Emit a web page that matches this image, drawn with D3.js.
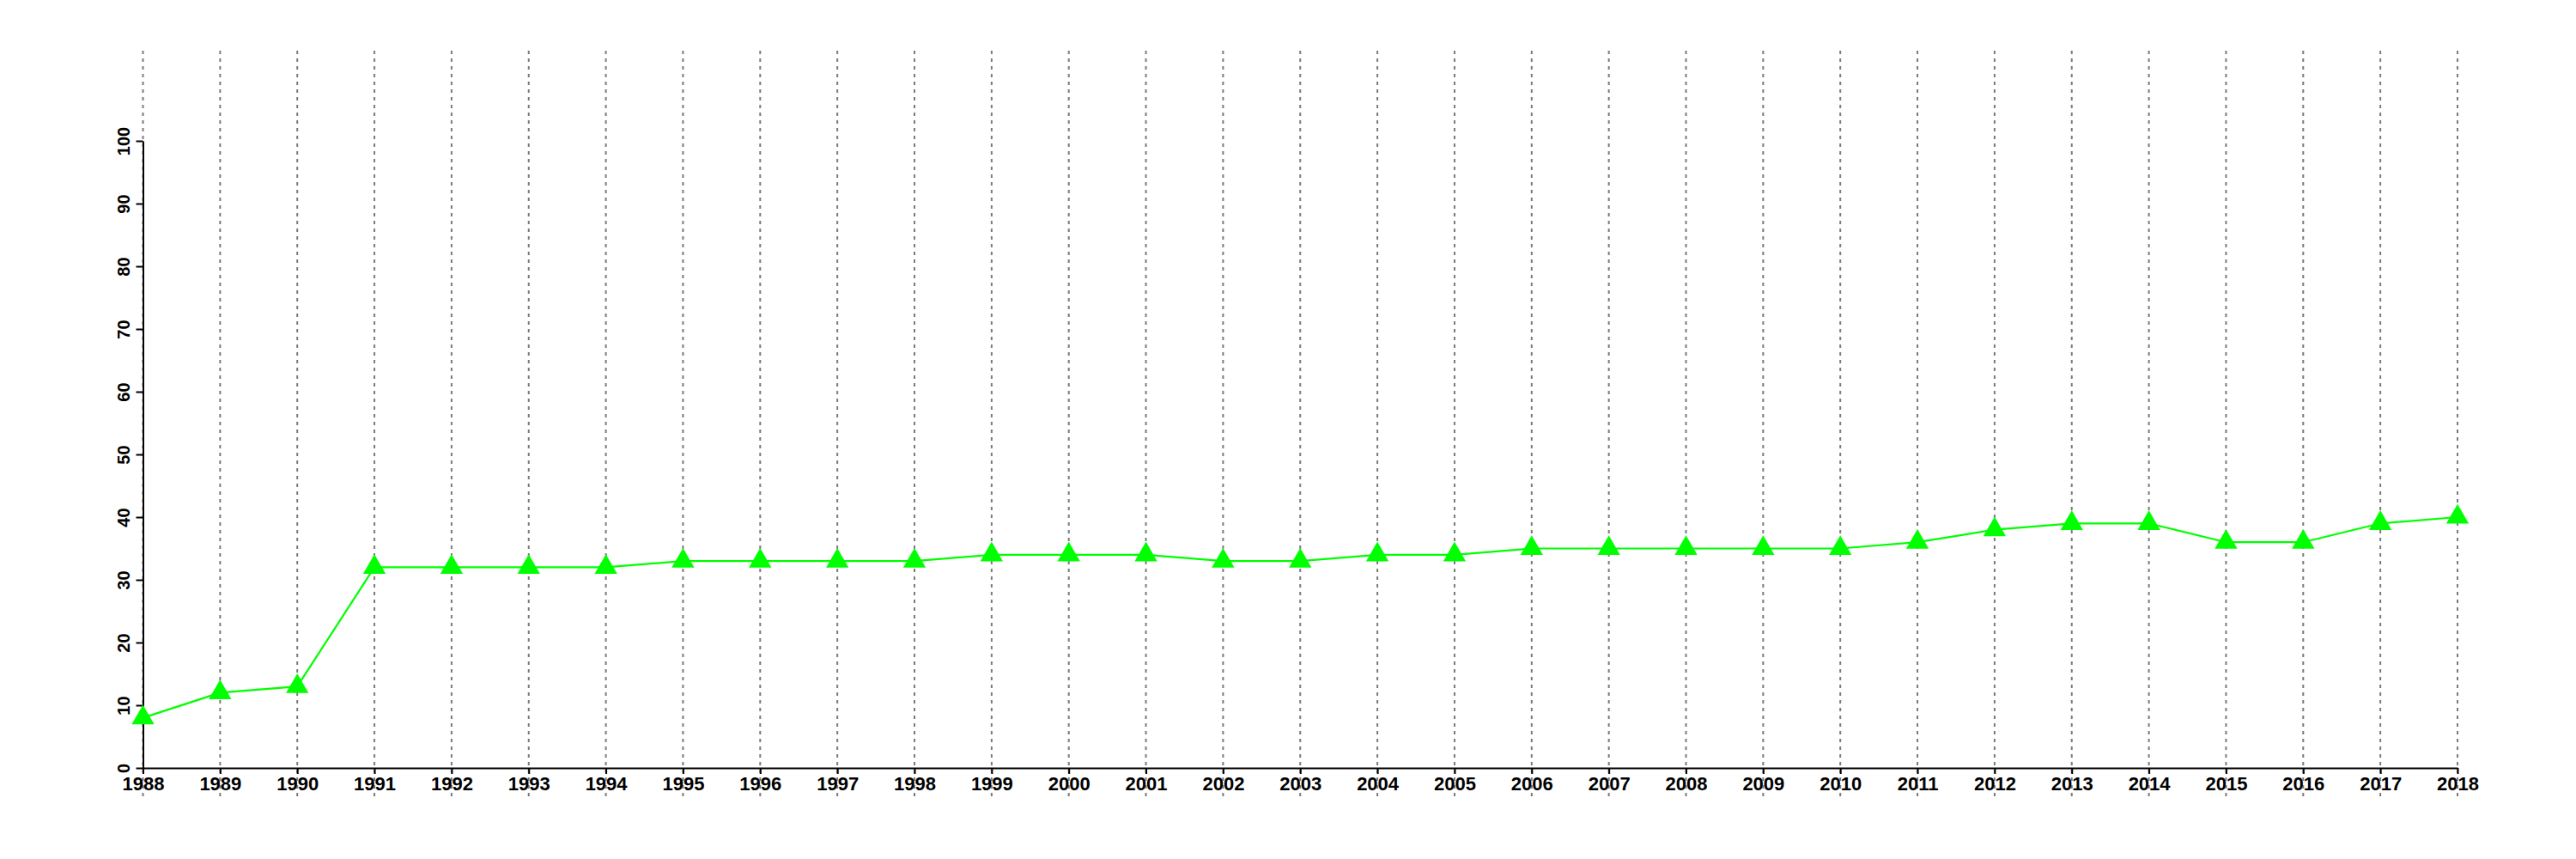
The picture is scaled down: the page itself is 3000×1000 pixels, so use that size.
<!DOCTYPE html>
<html>
<head>
<meta charset="utf-8">
<script src="https://cdn.jsdelivr.net/npm/d3@7"></script>
<style>
  html, body { margin: 0; padding: 0; background: #ffffff; }
  svg { display: block; }
</style>
</head>
<body>
<svg id="chart" width="3000" height="1000"></svg>
<script>
const years = [1988,1989,1990,1991,1992,1993,1994,1995,1996,1997,1998,1999,2000,2001,2002,2003,2004,2005,2006,2007,2008,2009,2010,2011,2012,2013,2014,2015,2016,2017,2018];
const values = [8,12,13,32,32,32,32,33,33,33,33,34,34,34,33,33,34,34,35,35,35,35,35,36,38,39,39,36,36,39,40];
const yTicks = [0,10,20,30,40,50,60,70,80,90,100];

const svg = d3.select("#chart");
svg.append("rect").attr("width", 3000).attr("height", 1000).attr("fill", "#ffffff");

const x = d3.scaleLinear().domain([1988, 2018]).range([166.5, 2862]);
const y = d3.scaleLinear().domain([0, 100]).range([894, 164]);

// vertical dashed grid lines
svg.append("g").selectAll("line").data(years).join("line")
  .attr("x1", d => x(d)).attr("x2", d => x(d))
  .attr("y1", 59).attr("y2", 928)
  .attr("stroke", "#7a7a7a").attr("stroke-width", 2)
  .attr("stroke-dasharray", "4,5");

const font = "'Liberation Sans', Arial, Helvetica, sans-serif";

// x axis
const gx = svg.append("g").attr("transform", `translate(0,${y(0)})`)
  .call(d3.axisBottom(x).tickValues(years).tickFormat(d3.format("d"))
    .tickSize(7).tickSizeOuter(0).tickPadding(3));
gx.select(".domain").attr("stroke", "#000").attr("stroke-width", 2);
gx.selectAll(".tick line").attr("stroke", "#000").attr("stroke-width", 2);
gx.selectAll(".tick text").attr("fill", "#000")
  .style("font-family", font).style("font-size", "22px").style("font-weight", "bold");

// y axis
const gy = svg.append("g").attr("transform", `translate(${x(1988)},0)`)
  .call(d3.axisLeft(y).tickValues(yTicks).tickSize(8).tickSizeOuter(0));
gy.select(".domain").attr("stroke", "#000").attr("stroke-width", 2);
gy.selectAll(".tick line").attr("stroke", "#000").attr("stroke-width", 2);
gy.selectAll(".tick text").attr("fill", "#000")
  .attr("x", null).attr("dy", null)
  .attr("text-anchor", "middle")
  .attr("transform", "translate(-16,0) rotate(-90)")
  .style("font-family", font).style("font-size", "20px").style("font-weight", "bold");

const data = years.map((yr, i) => ({year: yr, value: values[i]}));

// line
svg.append("path").datum(data)
  .attr("fill", "none").attr("stroke", "#00ff00").attr("stroke-width", 2.2)
  .attr("d", d3.line().x(d => x(d.year)).y(d => y(d.value)));

// triangle markers
svg.append("g").selectAll("path").data(data).join("path")
  .attr("transform", d => `translate(${x(d.year)},${y(d.value)})`)
  .attr("d", d3.symbol().type(d3.symbolTriangle).size(300))
  .attr("fill", "#00ff00");
</script>
</body>
</html>
